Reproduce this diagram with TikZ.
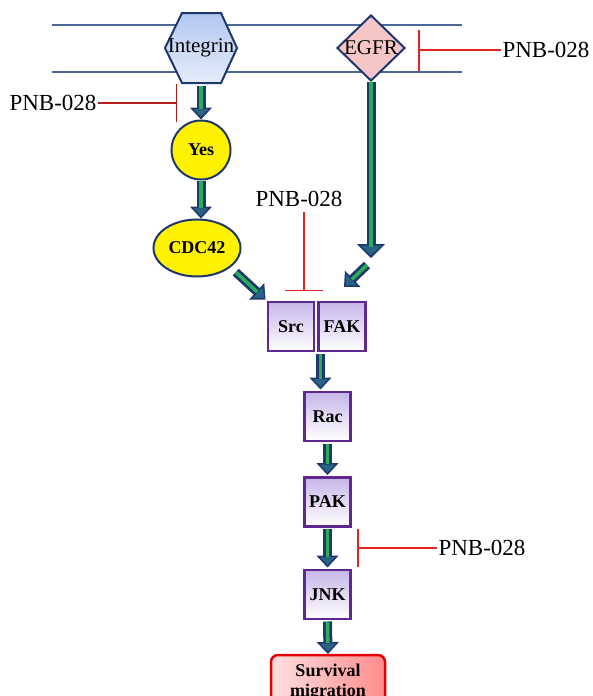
\documentclass[tikz,border=0pt]{standalone}
\usepackage{fontspec}
\setmainfont{Liberation Serif}
\usetikzlibrary{arrows.meta}
\usetikzlibrary{shapes.geometric}
\definecolor{membrane}{RGB}{74,104,150}
\definecolor{navy}{RGB}{30,55,110}
\definecolor{shaftgreen}{RGB}{40,175,85}
\definecolor{tipteal}{RGB}{40,100,130}
\definecolor{kinase}{RGB}{95,40,145}
\definecolor{lilac}{RGB}{198,182,232}
\definecolor{hexblue}{RGB}{178,200,240}
\definecolor{egfrpink}{RGB}{246,198,198}
\definecolor{block}{RGB}{230,35,35}

\begin{document}
\begin{tikzpicture}[x=1pt,y=-1pt,
  fat/.style={draw=navy,line width=9pt,
    -{Triangle[length=12pt,width=22pt,line width=1.5pt,color=navy,fill=tipteal]},
    postaction={draw=shaftgreen,line width=3.5pt,-,shorten >=11pt}},
  fatbig/.style={fat,-{Triangle[length=14pt,width=28pt,line width=1.5pt,color=navy,fill=tipteal]}},
  inh/.style={draw=block,line width=1.5pt,-{Bar[width=38pt,line width=1.5pt]}},
  drug/.style={inner sep=1pt,font=\fontsize{23}{23}\selectfont},
  kin/.style={draw=kinase,line width=2.8pt,top color=lilac,bottom color=white,
    minimum width=46pt,minimum height=49pt,inner sep=0pt,outer sep=2.5pt,
    font=\fontsize{18}{18}\selectfont\bfseries},
  adaptor/.style={draw=navy,line width=2pt,fill=yellow,outer sep=1pt,
    font=\fontsize{18}{18}\selectfont\bfseries}]
\useasboundingbox (0,0) rectangle (592,696);
\clip (0,0) rectangle (592,696);

% membrane
\draw[membrane,line width=1.5pt] (52,25) -- (462,25) (52,72) -- (462,72);

% receptors
\draw[navy,line width=2pt,top color=hexblue,bottom color=hexblue!35!white,shift={(201,48)}]
  (-36,0) -- (-19,-35) -- (20,-35) -- (36,0) -- (20,35) -- (-19,35) -- cycle;
\node (integrin) at (201,48) [minimum width=72pt,minimum height=70pt,inner sep=0pt,outer sep=3pt,
  font=\fontsize{21}{21}\selectfont] {Integrin};
\node (egfr) at (371,48) [diamond,draw=navy,line width=2pt,fill=egfrpink,minimum width=68pt,
  minimum height=66pt,inner sep=0pt,outer sep=1pt,label={[font=\fontsize{21}{21}\selectfont]center:EGFR}] {};

% pathway
\node[adaptor,circle,minimum size=59pt,inner sep=0pt] (yes) at (201,150) {Yes};
\node[adaptor,ellipse,minimum width=87pt,minimum height=57pt,inner sep=0pt] (cdc) at (197,248) {CDC42};
\node[kin] (src) at (291,326.5) {Src};
\node[kin,minimum width=47pt] (fak) at (342,326.5) {FAK};
\node[kin] (rac) at (327.5,416.5) {Rac};
\node[kin] (pak) at (327.5,502) {PAK};
\node[kin] (jnk) at (327.5,594.5) {JNK};
\node (surv) at (328,682) [draw=red!90!black,line width=2.5pt,rounded corners=7pt,left color=red!12,
  right color=red!45,minimum width=114pt,minimum height=54pt,align=center,outer sep=1pt,
  font=\fontsize{18}{20}\selectfont\bfseries] {Survival\\migration};

\coordinate (egfrend) at (371,258);
\coordinate (egfrbend) at (367,265);
\coordinate (fakend) at (344,287);
\path (src.south east) ++(4,0) coordinate (srcfak);

\draw[fat] (integrin.south) -- (yes.north);
\draw[fat] (yes.south) -- (yes.south |- cdc.north);
\draw[fat,shorten <=7pt] (cdc.-30) -- (src.north west);
\draw[fatbig] (egfr.south) -- (egfrend);
\draw[fat] (egfrbend) -- (fakend);
\draw[fat] (srcfak) -- (srcfak |- rac.north);
\draw[fat] (rac.south) -- (pak.north);
\draw[fat] (pak.south) -- (jnk.north);
\draw[fat] (jnk.south) -- (surv.north);

% PNB-028
\node[drug] (drugInt) at (53,103) {PNB-028};
\node[drug] (drugEgfr) at (546,50) {PNB-028};
\node[drug] (drugSrc) at (299,199) {PNB-028};
\node[drug] (drugJnk) at (482,548) {PNB-028};
\coordinate (blockInt) at (177,103);
\coordinate (blockEgfr) at (418,50);
\coordinate (blockSrc) at (304,291);
\coordinate (blockJnk) at (357,548);

\draw[inh,draw=block!80!black] (drugInt.east) -- (blockInt);
\draw[inh,-{Bar[width=41pt,line width=1.5pt]}] (drugEgfr.west) -- (blockEgfr);
\draw[inh,shorten <=4pt] (drugSrc.south -| blockSrc) -- (blockSrc);
\draw[inh] (drugJnk.west) -- (blockJnk);
\end{tikzpicture}
\end{document}
